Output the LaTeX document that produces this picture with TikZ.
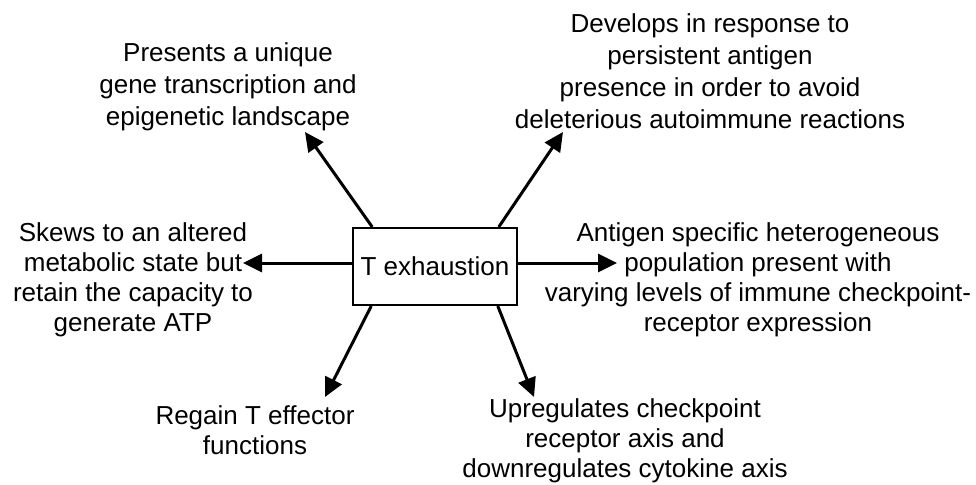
\documentclass[tikz,border=0pt]{standalone}
\usepackage{fontspec}
\setmainfont{Liberation Sans}
\usetikzlibrary{arrows.meta,calc}
\begin{document}
\begin{tikzpicture}[x=1pt,y=-1pt,
  lbl/.style={align=center, inner sep=0pt, font=\fontsize{26}{30}\selectfont},
  lbltop/.style={lbl, font=\fontsize{26}{32}\selectfont},
  arr/.style={line width=3pt, -{Triangle[length=19pt,width=18pt]}},
  mainbox/.style={draw, line width=2pt, minimum width=164pt, minimum height=77pt, inner sep=0pt, font=\fontsize{26}{30}\selectfont}]
\useasboundingbox (0,0) rectangle (976,484);
\node[mainbox] (tx) at (435,266.5) {T exhaustion};
\node[lbltop] (tl) at (228,87) {Presents a unique\\gene transcription and\\epigenetic landscape};
\node[lbltop] (tr) at (710,71) {Develops in response to\\persistent antigen\\presence in order to avoid\\deleterious autoimmune reactions};
\node[lbl] (lt) at (133,280) {Skews to an altered\\metabolic state but\\retain the capacity to\\generate ATP};
\node[lbl] (rt) at (758,280) {Antigen specific heterogeneous\\population present with\\varying levels of immune checkpoint-\\receptor expression};
\node[lbl] (bl) at (255,430) {Regain T effector\\functions};
\node[lbl] (br) at (625,441) {Upregulates checkpoint\\receptor axis and\\downregulates cytokine axis};
\coordinate (ulTip) at (305,132);
\coordinate (urTip) at (563,132);
\coordinate (lTip) at (243,263);
\coordinate (rTip) at (617,263);
\coordinate (dlTip) at (325,397);
\coordinate (drTip) at (534,397);
\draw[arr] ($(tx.north west)!0.122!(tx.north east)$) -- (ulTip);
\draw[arr] ($(tx.north west)!0.884!(tx.north east)$) -- (urTip);
\draw[arr] (tx.west |- lTip) -- (lTip);
\draw[arr] (tx.east |- rTip) -- (rTip);
\draw[arr] ($(tx.south west)!0.116!(tx.south east)$) -- (dlTip);
\draw[arr] ($(tx.south west)!0.878!(tx.south east)$) -- (drTip);
\end{tikzpicture}
\end{document}
